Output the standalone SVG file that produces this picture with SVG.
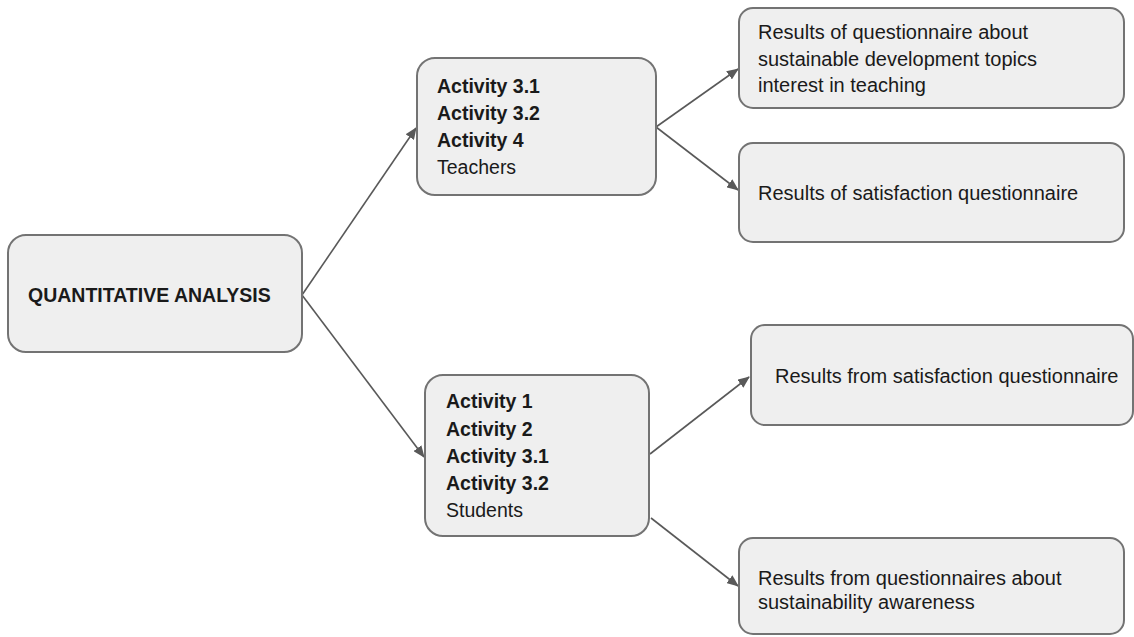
<svg xmlns="http://www.w3.org/2000/svg" width="1134" height="637" viewBox="0 0 1134 637">
  <style>
    .box { fill: #efefef; stroke: #737373; stroke-width: 2; }
    .t { font-family: "Liberation Sans", Arial, sans-serif; fill: #1a1a1a; }
    .b { font-weight: bold; font-size: 19.5px; }
    .r { font-size: 19.5px; }
    .rr { font-size: 20px; }
    .edge { stroke: #595959; stroke-width: 1.6; fill: none; marker-end: url(#arrow); }
  </style>
  <defs>
    <marker id="arrow" viewBox="0 0 12 10" refX="11" refY="5" markerWidth="12" markerHeight="10" markerUnits="userSpaceOnUse" orient="auto">
      <path d="M0,0 L12,5 L0,10 Z" fill="#595959"/>
    </marker>
  </defs>
  <rect width="1134" height="637" fill="#ffffff"/>

  <g id="connectors">
    <line class="edge" x1="302" y1="295" x2="416" y2="128"/>
    <line class="edge" x1="302" y1="295" x2="424" y2="457"/>
    <line class="edge" x1="656" y1="127" x2="738" y2="69"/>
    <line class="edge" x1="656" y1="127" x2="738" y2="190"/>
    <line class="edge" x1="650" y1="454" x2="749" y2="377"/>
    <line class="edge" x1="651" y1="518" x2="738" y2="586"/>
  </g>

  <g id="root">
    <rect class="box" x="8" y="235" width="294" height="117" rx="18"/>
    <text class="t b" x="28" y="302">QUANTITATIVE ANALYSIS</text>
  </g>

  <g id="teachers">
    <rect class="box" x="417" y="58" width="239" height="137" rx="18"/>
    <text class="t b" x="437" y="93">Activity 3.1</text>
    <text class="t b" x="437" y="120">Activity 3.2</text>
    <text class="t b" x="437" y="147">Activity 4</text>
    <text class="t r" x="437" y="174">Teachers</text>
  </g>

  <g id="students">
    <rect class="box" x="425" y="375" width="224" height="161" rx="18"/>
    <text class="t b" x="446" y="408">Activity 1</text>
    <text class="t b" x="446" y="436">Activity 2</text>
    <text class="t b" x="446" y="463">Activity 3.1</text>
    <text class="t b" x="446" y="490">Activity 3.2</text>
    <text class="t r" x="446" y="517">Students</text>
  </g>

  <g id="teachers-interest">
    <rect class="box" x="739" y="8" width="385" height="100" rx="14"/>
    <text class="t rr" x="758" y="39">Results of questionnaire about</text>
    <text class="t rr" x="758" y="66">sustainable development topics</text>
    <text class="t rr" x="758" y="92">interest in teaching</text>
  </g>

  <g id="teachers-satisfaction">
    <rect class="box" x="739" y="143" width="385" height="99" rx="14"/>
    <text class="t rr" x="758" y="200">Results of satisfaction questionnaire</text>
  </g>

  <g id="students-satisfaction">
    <rect class="box" x="751" y="325" width="382" height="100" rx="14"/>
    <text class="t rr" x="775" y="383">Results from satisfaction questionnaire</text>
  </g>

  <g id="students-awareness">
    <rect class="box" x="739" y="538" width="385" height="96" rx="14"/>
    <text class="t rr" x="758" y="585">Results from questionnaires about</text>
    <text class="t rr" x="758" y="609">sustainability awareness</text>
  </g>
</svg>
